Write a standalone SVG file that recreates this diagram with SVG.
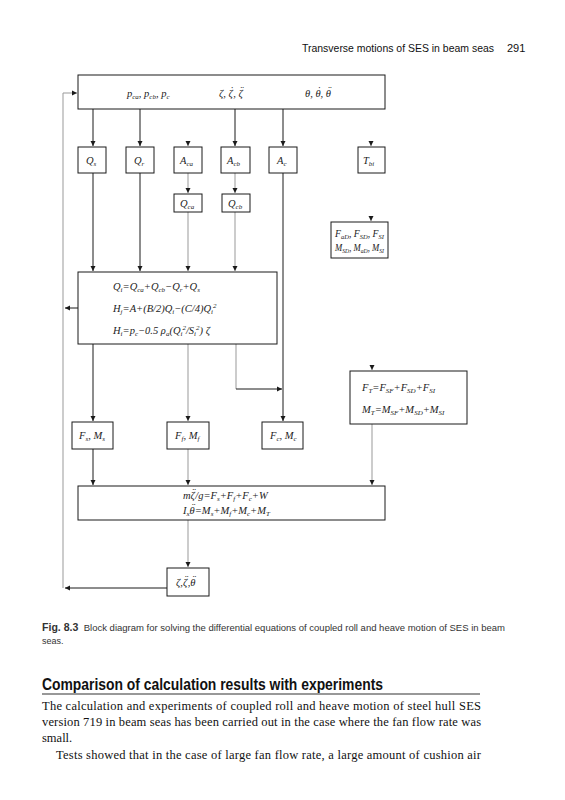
<svg xmlns="http://www.w3.org/2000/svg" width="565" height="800" viewBox="0 0 565 800">
<style>
.box{fill:#fff;stroke:#1a1a1a;stroke-width:1}
.m{font-family:"Liberation Serif",serif;font-style:italic;font-size:10.5px;fill:#222}
.s{font-size:7px}
.dk{stroke:#1a1a1a;stroke-width:1;fill:none}
.gy{stroke:#999;stroke-width:1;fill:none}
.hd{font-family:"Liberation Sans",sans-serif;font-size:11px;fill:#111}
.cap{font-family:"Liberation Sans",sans-serif;font-size:9px;fill:#333}
.body{font-family:"Liberation Serif",serif;font-size:12.5px;fill:#111}
</style>
<defs>
<marker id="a" markerWidth="6" markerHeight="6" refX="5" refY="3" orient="auto" markerUnits="userSpaceOnUse">
<path d="M0,0.5 L5,3 L0,5.5 Z" fill="#1a1a1a"/>
</marker>
</defs>
<rect width="565" height="800" fill="#fff"/>
<text class="hd" x="302" y="52" textLength="192" lengthAdjust="spacingAndGlyphs">Transverse motions of SES in beam seas</text>
<text class="hd" x="507" y="52">291</text>

<g id="connectors">
<path class="gy" d="M63,588 L63,93 L77,93" marker-end="url(#a)"/>
<path class="dk" d="M93,109 L93,146" marker-end="url(#a)"/>
<path class="dk" d="M140,109 L140,146" marker-end="url(#a)"/>
<path class="dk" d="M235,109 L235,146" marker-end="url(#a)"/>
<path class="dk" d="M283,109 L283,146" marker-end="url(#a)"/>
<path class="gy" d="M188,141 L188,146" marker-end="url(#a)"/>
<path class="gy" d="M371,141 L371,146" marker-end="url(#a)"/>
<path class="gy" d="M188,173 L188,193" marker-end="url(#a)"/>
<path class="gy" d="M235,173 L235,193" marker-end="url(#a)"/>
<path class="gy" d="M371,216 L371,221" marker-end="url(#a)"/>
<path class="dk" d="M93,173 L93,271" marker-end="url(#a)"/>
<path class="dk" d="M140,173 L140,271" marker-end="url(#a)"/>
<path class="gy" d="M188,212 L188,271" marker-end="url(#a)"/>
<path class="gy" d="M235,212 L235,271" marker-end="url(#a)"/>
<path class="dk" d="M78,308 L65,308" marker-end="url(#a)"/>
<path class="dk" d="M283,173 L283,421" marker-end="url(#a)"/>
<path class="gy" d="M236,344 L236,389"/>
<path class="dk" d="M236,389 L282,389" marker-end="url(#a)"/>
<path class="gy" d="M372,365 L372,370" marker-end="url(#a)"/>
<path class="dk" d="M93,344 L93,421" marker-end="url(#a)"/>
<path class="gy" d="M188,344 L188,421" marker-end="url(#a)"/>
<path class="dk" d="M93,449 L93,485" marker-end="url(#a)"/>
<path class="gy" d="M188,449 L188,485" marker-end="url(#a)"/>
<path class="gy" d="M372,424 L372,485" marker-end="url(#a)"/>
<path class="gy" d="M188,520 L188,567" marker-end="url(#a)"/>
<path class="dk" d="M167,588 L65,588" marker-end="url(#a)"/>
</g>

<g id="top">
<rect class="box" x="78" y="75" width="307" height="34"/>
<text class="m" x="127" y="97">p<tspan class="s" dy="2">ca</tspan><tspan dy="-2">, p</tspan><tspan class="s" dy="2">cb</tspan><tspan dy="-2">, p</tspan><tspan class="s" dy="2">c</tspan></text>
<text class="m" x="219" y="97">ζ, ζ<tspan dx="-3" dy="-3">˙</tspan><tspan dy="3">, ζ</tspan><tspan dx="-3" dy="-3">¨</tspan></text>
<text class="m" x="305" y="97">θ, θ<tspan dx="-3.5" dy="-3">˙</tspan><tspan dy="3">, θ</tspan><tspan dx="-3.5" dy="-3">¨</tspan></text>
</g>

<g id="Qs"><rect class="box" x="78" y="147" width="28" height="26"/><text class="m" x="86" y="164">Q<tspan class="s" dy="2">s</tspan></text></g>
<g id="Qr"><rect class="box" x="126" y="147" width="28" height="26"/><text class="m" x="134" y="164">Q<tspan class="s" dy="2">r</tspan></text></g>
<g id="Aca"><rect class="box" x="174" y="147" width="28" height="26"/><text class="m" x="180" y="164">A<tspan class="s" dy="2">ca</tspan></text></g>
<g id="Acb"><rect class="box" x="221" y="147" width="29" height="26"/><text class="m" x="227" y="164">A<tspan class="s" dy="2">cb</tspan></text></g>
<g id="Ac"><rect class="box" x="269" y="147" width="28" height="26"/><text class="m" x="277" y="164">A<tspan class="s" dy="2">c</tspan></text></g>
<g id="Tbi"><rect class="box" x="358" y="147" width="27" height="26"/><text class="m" x="363" y="164">T<tspan class="s" dy="2">bi</tspan></text></g>

<g id="Qca"><rect class="box" x="174" y="194" width="28" height="18"/><text class="m" x="180" y="207">Q<tspan class="s" dy="2">ca</tspan></text></g>
<g id="Qcb"><rect class="box" x="222" y="194" width="28" height="18"/><text class="m" x="228" y="207">Q<tspan class="s" dy="2">cb</tspan></text></g>

<g id="Fbox">
<rect class="box" x="331" y="222" width="57" height="36"/>
<text class="m" x="335" y="237" textLength="49" lengthAdjust="spacingAndGlyphs">F<tspan class="s" dy="2">aD</tspan><tspan dy="-2">, F</tspan><tspan class="s" dy="2">SD</tspan><tspan dy="-2">, F</tspan><tspan class="s" dy="2">SI</tspan></text>
<text class="m" x="335" y="251" textLength="49" lengthAdjust="spacingAndGlyphs">M<tspan class="s" dy="2">SD</tspan><tspan dy="-2">, M</tspan><tspan class="s" dy="2">aD</tspan><tspan dy="-2">, M</tspan><tspan class="s" dy="2">SI</tspan></text>
</g>

<g id="main">
<rect class="box" x="78" y="272" width="199" height="72"/>
<text class="m" x="113" y="290">Q<tspan class="s" dy="2">i</tspan><tspan dy="-2">=Q</tspan><tspan class="s" dy="2">ca</tspan><tspan dy="-2">+Q</tspan><tspan class="s" dy="2">cb</tspan><tspan dy="-2">−Q</tspan><tspan class="s" dy="2">r</tspan><tspan dy="-2">+Q</tspan><tspan class="s" dy="2">s</tspan></text>
<text class="m" x="113" y="312">H<tspan class="s" dy="2">j</tspan><tspan dy="-2">=A+(B/2)Q</tspan><tspan class="s" dy="2">i</tspan><tspan dy="-2">−(C/4)Q</tspan><tspan class="s" dy="2">i</tspan><tspan class="s" dy="-6">2</tspan></text>
<text class="m" x="113" y="334">H<tspan class="s" dy="2">i</tspan><tspan dy="-2">=p</tspan><tspan class="s" dy="2">c</tspan><tspan dy="-2">−0.5 ρ</tspan><tspan class="s" dy="2">a</tspan><tspan dy="-2">(Q</tspan><tspan class="s" dy="2">i</tspan><tspan class="s" dy="-6">2</tspan><tspan dy="4">/S</tspan><tspan class="s" dy="2">i</tspan><tspan class="s" dy="-6">2</tspan><tspan dy="4">) ζ</tspan></text>
</g>

<g id="FT">
<rect class="box" x="350" y="371" width="117" height="53"/>
<text class="m" x="362" y="391">F<tspan class="s" dy="2">T</tspan><tspan dy="-2">=F</tspan><tspan class="s" dy="2">SF</tspan><tspan dy="-2">+F</tspan><tspan class="s" dy="2">SD</tspan><tspan dy="-2">+F</tspan><tspan class="s" dy="2">SI</tspan></text>
<text class="m" x="362" y="413">M<tspan class="s" dy="2">T</tspan><tspan dy="-2">=M</tspan><tspan class="s" dy="2">SF</tspan><tspan dy="-2">+M</tspan><tspan class="s" dy="2">SD</tspan><tspan dy="-2">+M</tspan><tspan class="s" dy="2">SI</tspan></text>
</g>

<g id="Fs"><rect class="box" x="72" y="422" width="41" height="27"/><text class="m" x="79" y="439">F<tspan class="s" dy="2">s</tspan><tspan dy="-2">, M</tspan><tspan class="s" dy="2">s</tspan></text></g>
<g id="Ff"><rect class="box" x="167" y="422" width="42" height="27"/><text class="m" x="175" y="439">F<tspan class="s" dy="2">f</tspan><tspan dy="-2">, M</tspan><tspan class="s" dy="2">f</tspan></text></g>
<g id="Fc"><rect class="box" x="262" y="422" width="41" height="27"/><text class="m" x="270" y="439">F<tspan class="s" dy="2">c</tspan><tspan dy="-2">, M</tspan><tspan class="s" dy="2">c</tspan></text></g>

<g id="eqbox">
<rect class="box" x="78" y="486" width="307" height="34"/>
<text class="m" x="183" y="499">mζ<tspan dx="-3" dy="-3">¨</tspan><tspan dy="3">/g=F</tspan><tspan class="s" dy="2">s</tspan><tspan dy="-2">+F</tspan><tspan class="s" dy="2">f</tspan><tspan dy="-2">+F</tspan><tspan class="s" dy="2">c</tspan><tspan dy="-2">+W</tspan></text>
<text class="m" x="183" y="514">I<tspan class="s" dy="2">x</tspan><tspan dy="-2">θ</tspan><tspan dx="-3.5" dy="-3">¨</tspan><tspan dy="3">=M</tspan><tspan class="s" dy="2">s</tspan><tspan dy="-2">+M</tspan><tspan class="s" dy="2">f</tspan><tspan dy="-2">+M</tspan><tspan class="s" dy="2">c</tspan><tspan dy="-2">+M</tspan><tspan class="s" dy="2">T</tspan></text>
</g>

<g id="out"><rect class="box" x="167" y="568" width="42" height="28"/><text class="m" x="176" y="586">ζ,ζ<tspan dx="-3" dy="-3">¨</tspan><tspan dy="3">,θ</tspan><tspan dx="-3.5" dy="-3">¨</tspan></text></g>

<text class="cap" x="42" y="631" textLength="463" lengthAdjust="spacingAndGlyphs"><tspan font-weight="bold" font-size="10">Fig. 8.3</tspan><tspan dx="5">Block diagram for solving the differential equations of coupled roll and heave motion of SES in beam</tspan></text>
<text class="cap" x="42" y="644">seas.</text>

<text x="42" y="690" font-family="Liberation Sans,sans-serif" font-weight="bold" font-size="16" fill="#111" textLength="341" lengthAdjust="spacingAndGlyphs">Comparison of calculation results with experiments</text>
<line x1="42" y1="694" x2="480" y2="694" stroke="#333" stroke-width="1.2"/>
<text class="body" x="42" y="710" textLength="439" lengthAdjust="spacing">The calculation and experiments of coupled roll and heave motion of steel hull SES</text>
<text class="body" x="42" y="726" textLength="439" lengthAdjust="spacing">version 719 in beam seas has been carried out in the case where the fan flow rate was</text>
<text class="body" x="42" y="742">small.</text>
<text class="body" x="56" y="759" textLength="425" lengthAdjust="spacing">Tests showed that in the case of large fan flow rate, a large amount of cushion air</text>
</svg>
